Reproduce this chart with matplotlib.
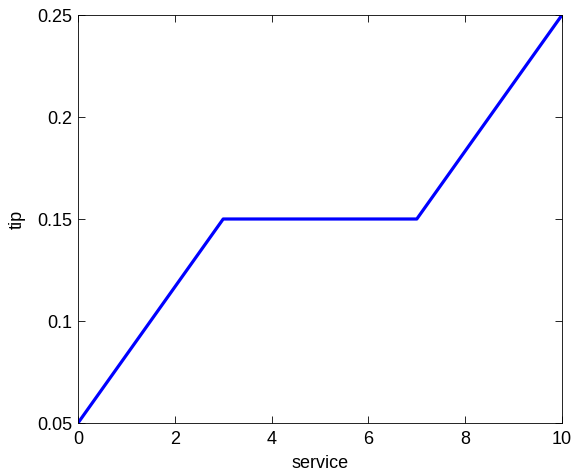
import matplotlib
matplotlib.use("Agg")
import matplotlib.pyplot as plt

service = [0, 3, 7, 10]
tip = [0.05, 0.15, 0.15, 0.25]
xticks = [0, 2, 4, 6, 8, 10]
yticks = [0.05, 0.1, 0.15, 0.2, 0.25]
ytick_labels = ["0.05", "0.1", "0.15", "0.2", "0.25"]

plt.rcParams['font.family'] = ['Liberation Sans', 'DejaVu Sans']
fig = plt.figure(figsize=(5.73, 4.73), dpi=100)
ax = fig.add_axes([78/573, 50/473, (562-78)/573, (423-15)/473])
ax.plot(service, tip, color='#0000ff', linewidth=2.3)
ax.set_xlim(0, 10)
ax.set_ylim(0.05, 0.25)
ax.set_xticks(xticks)
ax.set_xticklabels([str(v) for v in xticks])
ax.set_yticks(yticks)
ax.set_yticklabels(ytick_labels)
ax.tick_params(direction='in', top=True, right=True, labelsize=13, length=5, width=0.6)
ax.tick_params(axis='x', pad=6)
ax.tick_params(axis='y', pad=4)
for s in ax.spines.values():
    s.set_linewidth(0.6)
ax.set_xlabel('service', fontsize=13, labelpad=4.5)
ax.set_ylabel('tip', fontsize=13, labelpad=8)
fig.savefig('out.png', dpi=100)
